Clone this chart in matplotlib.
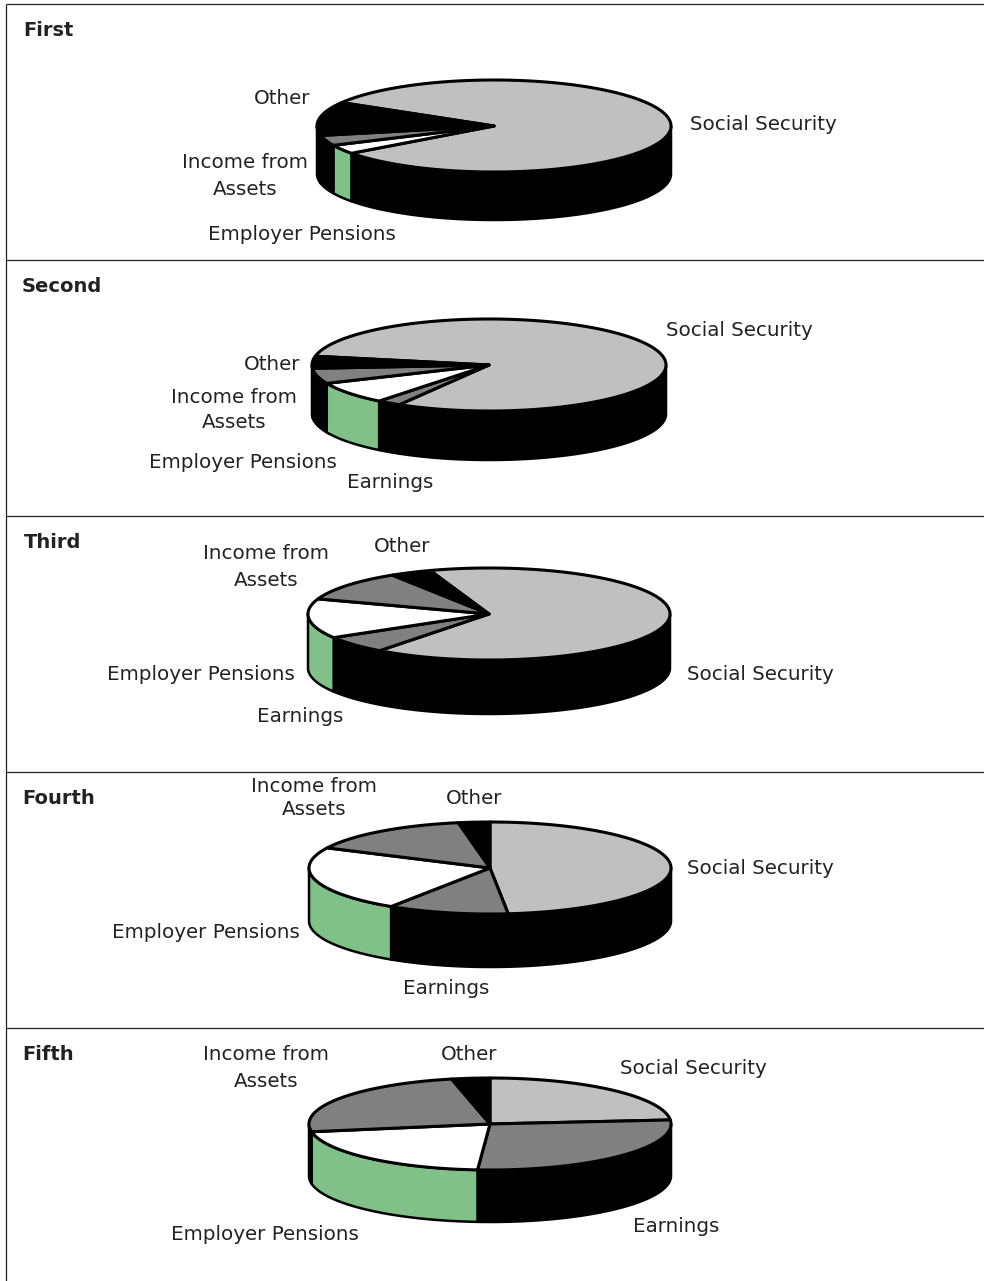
import numpy as np
import matplotlib
matplotlib.use("Agg")
import matplotlib.pyplot as plt

W, H = 984, 1281
categories = ["Social Security", "Earnings", "Employer Pensions", "Income from Assets", "Other"]
first = [81.4, 0.0, 3.2, 3.6, 11.8]
second = [80.4, 2.2, 7.8, 5.4, 4.2]
third = [65.6, 6.1, 13.9, 10.7, 3.7]
fourth = [48.4, 10.8, 23.0, 15.0, 2.8]
fifth = [23.6, 27.5, 21.2, 24.3, 3.4]
quintiles = ["First", "Second", "Third", "Fourth", "Fifth"]
series = [first, second, third, fourth, fifth]

top_colors = ["#C0C0C0", "#808080", "#FFFFFF", "#808080", "#000000"]
wall_colors = ["#000000", "#000000", "#82C08A", "#000000", "#000000"]

# layout: centre x, centre y, radius x, start angle (degrees, math convention), depth
layout = [(494, 126, 177, 149.4, 48), (489, 365, 177, 169.0, 49), (489, 614, 181, 109.0, 54),
          (490, 868, 181, 90.0, 53), (490, 1124, 181, 90.0, 52)]
RY = 46
rules = [4, 260, 516, 772, 1028]
title_pos = [(23, 31), (22, 287), (24, 543), (22, 799), (22, 1055)]
line_gaps = [1.47, 1.41, 1.47, 1.3, 1.47]

label_pos = [
    {"Social Security": (763, 125), "Other": (282, 98), "Income from Assets": (245, 176),
     "Employer Pensions": (302, 234)},
    {"Social Security": (739, 330), "Other": (272, 365), "Income from Assets": (234, 410),
     "Employer Pensions": (243, 463), "Earnings": (390, 482)},
    {"Social Security": (760, 674), "Other": (402, 546), "Income from Assets": (266, 567),
     "Employer Pensions": (201, 674), "Earnings": (300, 717)},
    {"Social Security": (760, 869), "Other": (474, 799), "Income from Assets": (314, 798),
     "Employer Pensions": (206, 933), "Earnings": (446, 989)},
    {"Social Security": (693, 1069), "Other": (469, 1055), "Income from Assets": (266, 1068),
     "Employer Pensions": (265, 1234), "Earnings": (676, 1226)},
]

plt.rcParams["font.family"] = ["DejaVu Sans"]
fig = plt.figure(figsize=(W / 100, H / 100), dpi=100)
ax = fig.add_axes([0, 0, 1, 1])
ax.set_xlim(0, W)
ax.set_ylim(H, 0)
ax.axis("off")

for y in rules:
    ax.plot([6, W], [y, y], color="#222222", lw=0.9, solid_capstyle="butt")
ax.plot([6, 6], [rules[0], H], color="#222222", lw=0.9, solid_capstyle="butt")


def pts(cx, cy, rx, angles, dy=0):
    t = np.radians(angles)
    return cx + rx * np.cos(t), cy - RY * np.sin(t) + dy


for (cx, cy, rx, start, depth), vals in zip(layout, series):
    edges = start - np.cumsum([0] + vals) * 3.6
    # side walls on the visible front half
    for i in range(len(vals)):
        a = np.linspace(edges[i], edges[i + 1], 400)
        a = a[np.sin(np.radians(a)) <= 0]
        if len(a) < 2:
            continue
        x, y = pts(cx, cy, rx, a)
        xb, yb = pts(cx, cy, rx, a, depth)
        ax.fill(np.r_[x, xb[::-1]], np.r_[y, yb[::-1]], facecolor=wall_colors[i],
                edgecolor="black", lw=1.8, joinstyle="round", zorder=2)
    # top surface
    for i in range(len(vals)):
        if vals[i] <= 0:
            continue
        a = np.linspace(edges[i], edges[i + 1], 200)
        x, y = pts(cx, cy, rx, a)
        ax.fill(np.r_[cx, x], np.r_[cy, y], facecolor=top_colors[i],
                edgecolor="black", lw=2.2, joinstyle="round", zorder=3)

for name, (x, y) in zip(quintiles, title_pos):
    ax.text(x, y, name, ha="left", va="center", fontsize=14, fontweight="bold", color="#222222")

for pos, gap in zip(label_pos, line_gaps):
    for cat, (x, y) in pos.items():
        s = "Income from\nAssets" if cat == "Income from Assets" else cat
        ax.text(x, y, s, ha="center", va="center", fontsize=14.3,
                color="#222222", linespacing=gap, zorder=5)

fig.savefig("out.png", dpi=100)
